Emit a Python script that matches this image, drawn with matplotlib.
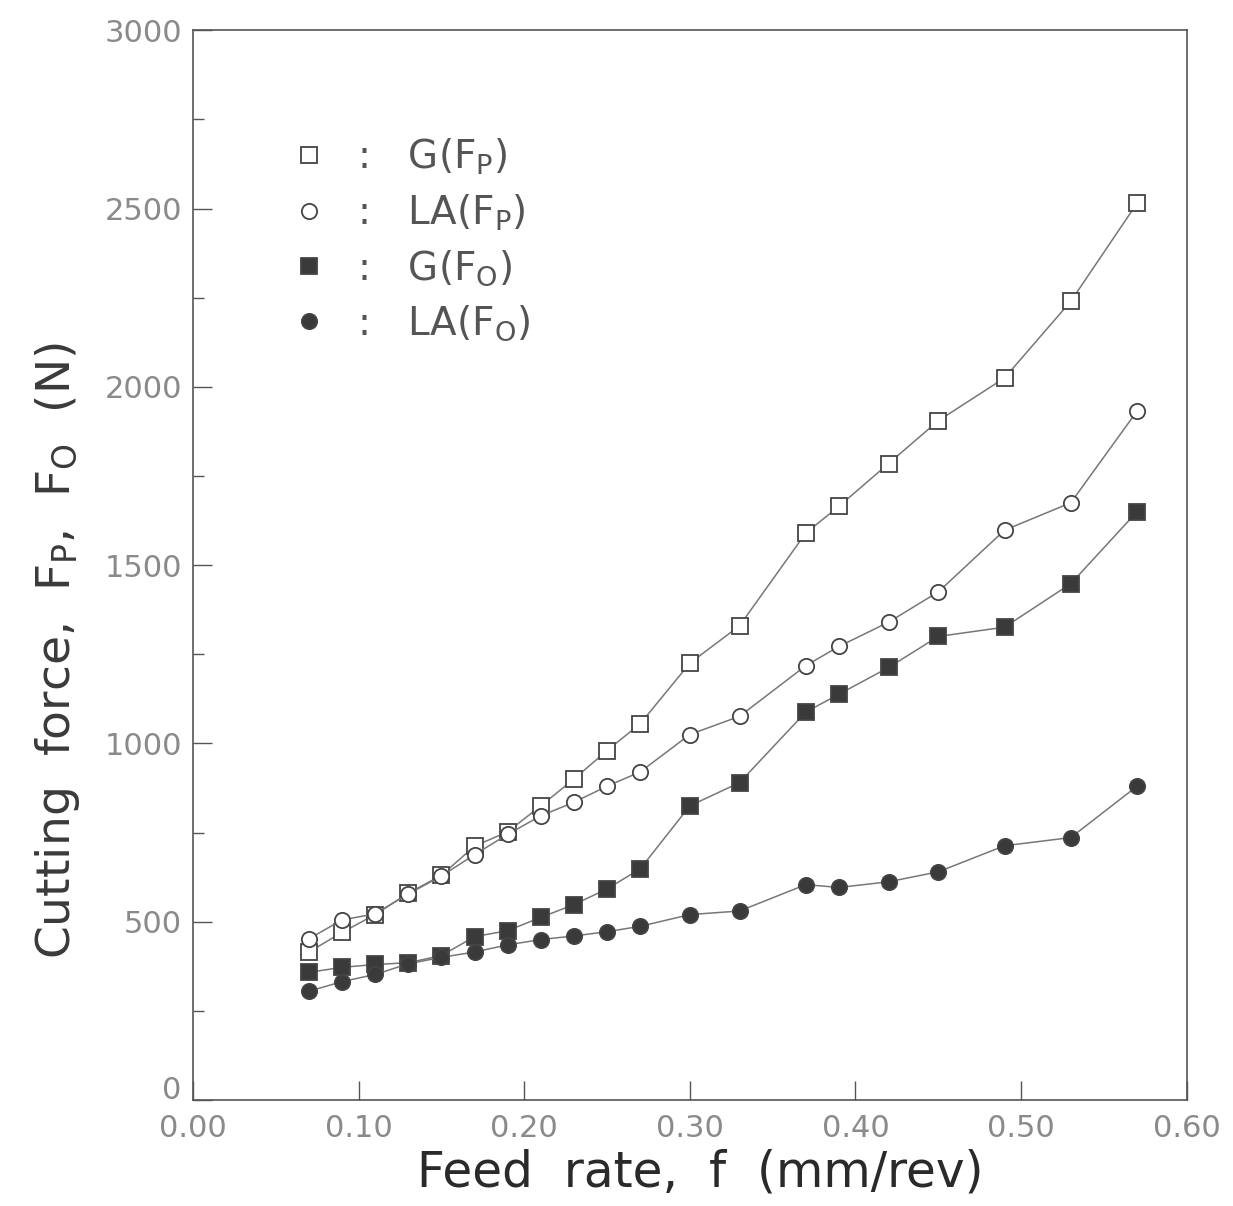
import numpy as np
import matplotlib
matplotlib.use('Agg')
import matplotlib.pyplot as plt
from matplotlib.transforms import ScaledTranslation

# feed rate (mm/rev)
feed = [0.07, 0.09, 0.11, 0.13, 0.15, 0.17, 0.19, 0.21, 0.23, 0.25,
        0.27, 0.30, 0.33, 0.37, 0.39, 0.42, 0.45, 0.49, 0.53, 0.57]

# cutting forces (N)
g_fp = [415, 470, 520, 580, 630, 712, 752, 825, 900, 980,
        1055, 1225, 1330, 1590, 1665, 1785, 1905, 2025, 2240, 2515]
la_fp = [452, 505, 522, 578, 628, 688, 745, 797, 835, 880,
         920, 1025, 1076, 1218, 1272, 1340, 1425, 1598, 1675, 1932]
g_fo = [358, 372, 380, 385, 405, 458, 475, 512, 548, 592,
        648, 825, 890, 1088, 1138, 1213, 1300, 1326, 1448, 1650]
la_fo = [305, 332, 352, 382, 400, 415, 435, 450, 460, 472,
         487, 520, 530, 604, 596, 612, 640, 713, 736, 880]

labels = [r'G(F$_\mathrm{P}$)', r'LA(F$_\mathrm{P}$)',
          r'G(F$_\mathrm{O}$)', r'LA(F$_\mathrm{O}$)']

plt.rcParams['font.family'] = ['DejaVu Sans']
plt.rcParams['mathtext.fontset'] = 'dejavusans'

fig = plt.figure(figsize=(12.33, 12.06), dpi=100)
ax = fig.add_axes([0.1565, 0.0879, 0.806, 0.887])

line_c = '#777777'
edge_c = '#444444'
ms = 11

series = [
    (g_fp, 's', 'white', labels[0]),
    (la_fp, 'o', 'white', labels[1]),
    (g_fo, 's', '#3a3a3a', labels[2]),
    (la_fo, 'o', '#3a3a3a', labels[3]),
]
handles = []
for vals, mk, fc, lab in series:
    h, = ax.plot(feed, vals, color=line_c, lw=1.1, marker=mk, ms=ms,
                 mfc=fc, mec=edge_c, mew=1.3, label='  :   ' + lab)
    handles.append(h)

ax.set_xlim(0.0, 0.6)
ax.set_ylim(0, 3000)
ax.set_xticks(np.arange(0, 0.61, 0.1))
ax.set_xticklabels(['0.00', '0.10', '0.20', '0.30', '0.40', '0.50', '0.60'])
ax.set_yticks(np.arange(0, 3001, 500))
ax.set_yticks(np.arange(0, 3001, 250), minor=True)

ax.tick_params(axis='both', which='major', direction='in', length=14,
               width=1, color='#555555', labelsize=22, labelcolor='#8a8a8a',
               pad=8)
ax.tick_params(axis='x', which='major', pad=10)
ax.tick_params(axis='y', which='minor', direction='in', length=8,
               width=1, color='#555555')
for s in ax.spines.values():
    s.set_color('#555555')
    s.set_linewidth(1.2)

# lift the "0" of the y axis a bit so it clears the "0.00" below it
fig.canvas.draw()
ylab0 = ax.get_yticklabels()[0]
ylab0.set_transform(ylab0.get_transform() +
                    ScaledTranslation(0, 0.12, fig.dpi_scale_trans))

ax.set_xlabel('Feed  rate,  f  (mm/rev)', fontsize=35, color='#2a2a2a')
ax.xaxis.set_label_coords(0.51, -0.045)
ax.set_ylabel(r'Cutting  force,  F$_\mathrm{P}$,  F$_\mathrm{O}$  (N)',
              fontsize=34, color='#3a3a3a')
ax.yaxis.set_label_coords(-0.112, 0.42)

leg = ax.legend(handles=handles, loc='upper left',
                bbox_to_anchor=(0.07, 0.933), frameon=False, fontsize=28,
                handlelength=0.6, handletextpad=0.3, labelspacing=0.40,
                labelcolor='#555555')
for h in leg.legend_handles:
    h.set_linestyle('none')

fig.savefig('out.png', dpi=100)
